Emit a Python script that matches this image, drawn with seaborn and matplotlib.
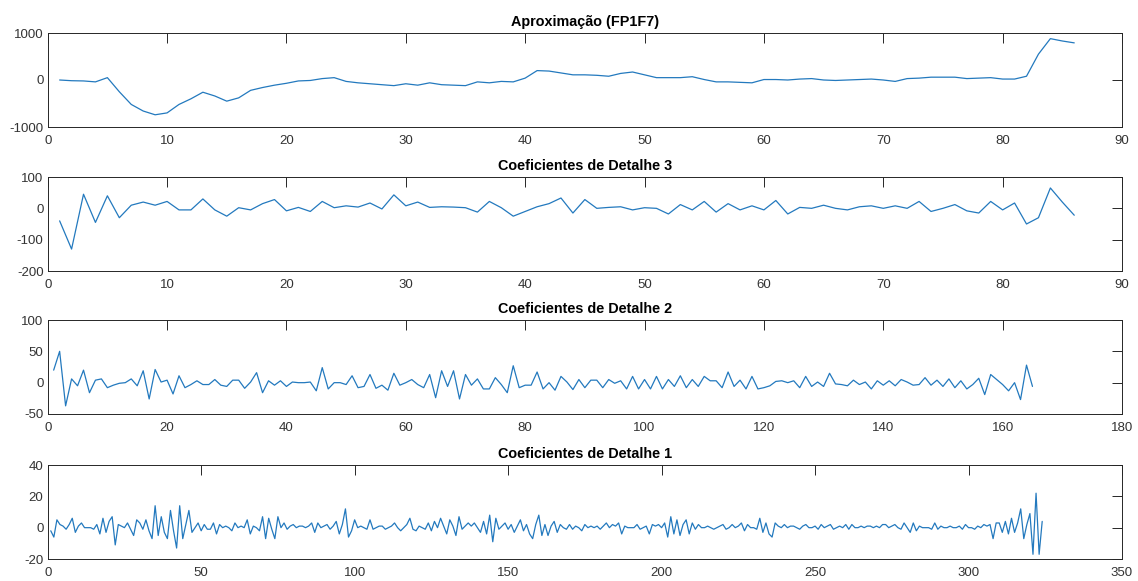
import numpy as np
import pandas as pd
import matplotlib
matplotlib.use("Agg")
import matplotlib.pyplot as plt
import seaborn as sns

# ---------------- data ----------------
aprox = [0, -15, -20, -40, 50, -250, -520, -660, -740, -700,
         -520, -400, -260, -340, -450, -380, -220, -160, -110, -70,
         -20, -10, 30, 50, -30, -60, -80, -100, -120, -80,
         -110, -60, -100, -110, -120, -40, -60, -30, -40, 40,
         200, 190, 150, 110, 110, 100, 80, 140, 170, 110,
         50, 50, 50, 70, 10, -40, -40, -50, -60, 10,
         10, 0, 20, 30, 0, -10, 0, 10, 20, 0,
         -30, 30, 40, 60, 60, 60, 30, 40, 50, 20,
         20, 80, 550, 880, 830, 790]

det3 = [-40, -130, 45, -45, 40, -30, 10, 20, 10, 22,
        -5, -5, 30, -5, -25, 2, -5, 15, 28, -8,
        3, -10, 22, 2, 8, 4, 17, -2, 43, 8,
        20, 3, 5, 4, 2, -12, 22, 2, -25, -10,
        5, 15, 33, -15, 28, 0, 3, 5, -5, 2,
        0, -18, 12, -5, 22, -12, 15, -5, 8, -5,
        25, -18, 3, 0, 10, 0, -5, 5, 8, 0,
        8, 0, 22, -10, 0, 12, -8, -15, 22, -5,
        17, -50, -30, 65, 20, -22]

det2 = [20, 50, -37, 6, -5, 20, -16, 4, 6, -8,
        -4, -1, 0, 6, -5, 19, -26, 21, 1, 4,
        -18, 11, -8, -3, 3, -3, -3, 5, -4, -6,
        4, 4, -9, 1, 16, -16, 3, -4, 3, -6,
        1, 0, 0, 1, -13, 24, -10, 0, 0, -3,
        11, -8, -6, 13, -9, -4, -12, 15,
        -4, 0, 5, -3, -8, 13, -24, 19, -6, 19,
        -26, 13, -4, 6, -10, -10, 8, -3, -16, 27,
        -8, -4, -4, 17, -10, 0, -12, 10, 1, -11,
        5, -8, 4, 4, -8, 5, -1, 3, -10, 10,
        -10, 5, -10, 10, -10, 5, -6, 11, -8, 5,
        -6, 10, 3, 3, -8, 17, -6, 4, -10, 10,
        -10,
        -8, -5, 2, 3, 0, 3, -8, 10, -6, 1,
        -6, 15, -2, -3, -5, 4, -3, 1, -10, 3,
        -4, 3, -5, 5, 1, -4, -3, 8, -4, 4,
        -6, 6, -8, 3, -10, -3, 7, -19, 13, 5,
        -3, -13, 0, -27, 28, -6]

det1 = [-2, -6, 5, 2, 1, -1, 2, 6, -3, 1,
        3, 0, 0, 0, -1, 2, -4, 6, -3, 4,
        7, -11, 2, 1, 0, 3, -1, -5, 5, 3,
        -1, 5, -2, -7, 14, -5, 7, -3, -7, 11,
        -2, -13, 14, -7, 2, 11, -3, 0, 3, -2,
        2, -1, -1, 3, -4, 2, 0, 1, 0, -2,
        3, 0, 1, 0, 5, -4, 1, 0, -2, 7,
        -7, 6, -1, -7, 7, 0, 3, -1, 1, 2,
        0, 1, 1, 0, 1, 3, -3, 3, 0, 1,
        2, -1,
        1, 4, -4, 2, 12, -6, -2, 5, 0, 1,
        0, -1, 5, -1, 0, 1, 1, -1, 0, 1,
        3, 0, -2, 0, 2, 6, -1, -2, 1, 0,
        -1, 3, -2, 4, 0, 6, 1, -4, 5, 1,
        -5, 7, -1, 1, 3, 1, 3, 0, -3, 4,
        -4, 8, -9, 6, -1, 1, 3, -1, 2, -3,
        1, 5, -2, 2, -4, -7, 2, 8, -5, 2,
        -5, 1, 4, -3, 2, 0, -1, 2, -1, 1,
        0, -2, 2, 0, 1, 0, 1, -1, 1, 3,
        0,
        2, 1, 3, -4, 1, 0, 0, 0, 2, -1,
        0, 1, -4, 2, 1, 2, 0, 3, -6, 7,
        -4, 5, -5, 2, 5, -4, 3, -1, 2, 0,
        0, 1, 0, -1, 0, 1, 2, -1, 0, 2,
        0, 1, 3, -2, 2, 0, 0, -1, 6, -3,
        3, -4, -6, 3, 1, 0, 2, 0, 1, 1,
        0, -1, 1, 2, 0, 0, 1, -1, 2, 0,
        1, 2, -1, 0, 1, 0, 2, -1, 2, 0,
        0, 1, 0, 1, 1, 0, 1, 0, 2, 2,
        0, 1,
        2, 0, -1, 3, 0, -3, 3, -2, 1, 0,
        0, 0, -1, 3, -1, 1, 0, 0, 1, 0,
        0, 1, -1, 2, 0, 0, -1, 1, 0, 2,
        1, 2, -7, 3, 3, -3, 4, -4, 6, -3,
        3, 12, -7, 2, 9, -17, 22, -17, 4]

titles = ["Aproximação (FP1F7)", "Coeficientes de Detalhe 3",
          "Coeficientes de Detalhe 2", "Coeficientes de Detalhe 1"]
series = [aprox, det3, det2, det1]
xlims = [(0, 90), (0, 90), (0, 180), (0, 350)]
xticks = [np.arange(0, 91, 10), np.arange(0, 91, 10),
          np.arange(0, 181, 20), np.arange(0, 351, 50)]
ylims = [(-1000, 1000), (-200, 100), (-50, 100), (-20, 40)]
yticks = [[-1000, 0, 1000], [-200, -100, 0, 100], [-50, 0, 50, 100], [-20, 0, 20, 40]]

# ---------------- style ----------------
sns.set_theme(style="white")
plt.rcParams['font.family'] = ['Liberation Sans', 'DejaVu Sans']
plt.rcParams['axes.unicode_minus'] = False

W, H = 1138, 581
fig = plt.figure(figsize=(W / 100, H / 100), dpi=100)
fig.patch.set_facecolor("white")

left = 47.7 / W
width = (1122 - 47.7) / W
ax_h = 94 / H
bottoms_px = [127, 271, 414, 559]

line_color = "#2379BE"
edge = "#262626"
label_col = "#333333"

for k in range(4):
    bottom = 1 - bottoms_px[k] / H
    ax = fig.add_axes([left, bottom, width, ax_h])
    vals = series[k]
    df = pd.DataFrame({"x": np.arange(1, len(vals) + 1), "y": vals})
    sns.lineplot(data=df, x="x", y="y", ax=ax, color=line_color, linewidth=0.9)
    ax.set_xlim(*xlims[k])
    ax.set_ylim(*ylims[k])
    ax.set_xticks(xticks[k])
    ax.set_yticks(yticks[k])
    ax.set_xlabel("")
    ax.set_ylabel("")
    ax.set_title(titles[k], fontsize=10.4, fontweight="bold", color="black", pad=5)
    ax.tick_params(direction="in", length=7, width=0.7, colors=edge,
                   labelsize=9.5, top=True, right=True, labelcolor=label_col)
    ax.tick_params(axis="x", pad=6)
    ax.tick_params(axis="y", pad=3)
    for sp in ax.spines.values():
        sp.set_visible(True)
        sp.set_color(edge)
        sp.set_linewidth(0.7)
    ax.set_facecolor("white")

fig.savefig("out.png", dpi=100, facecolor="white")
